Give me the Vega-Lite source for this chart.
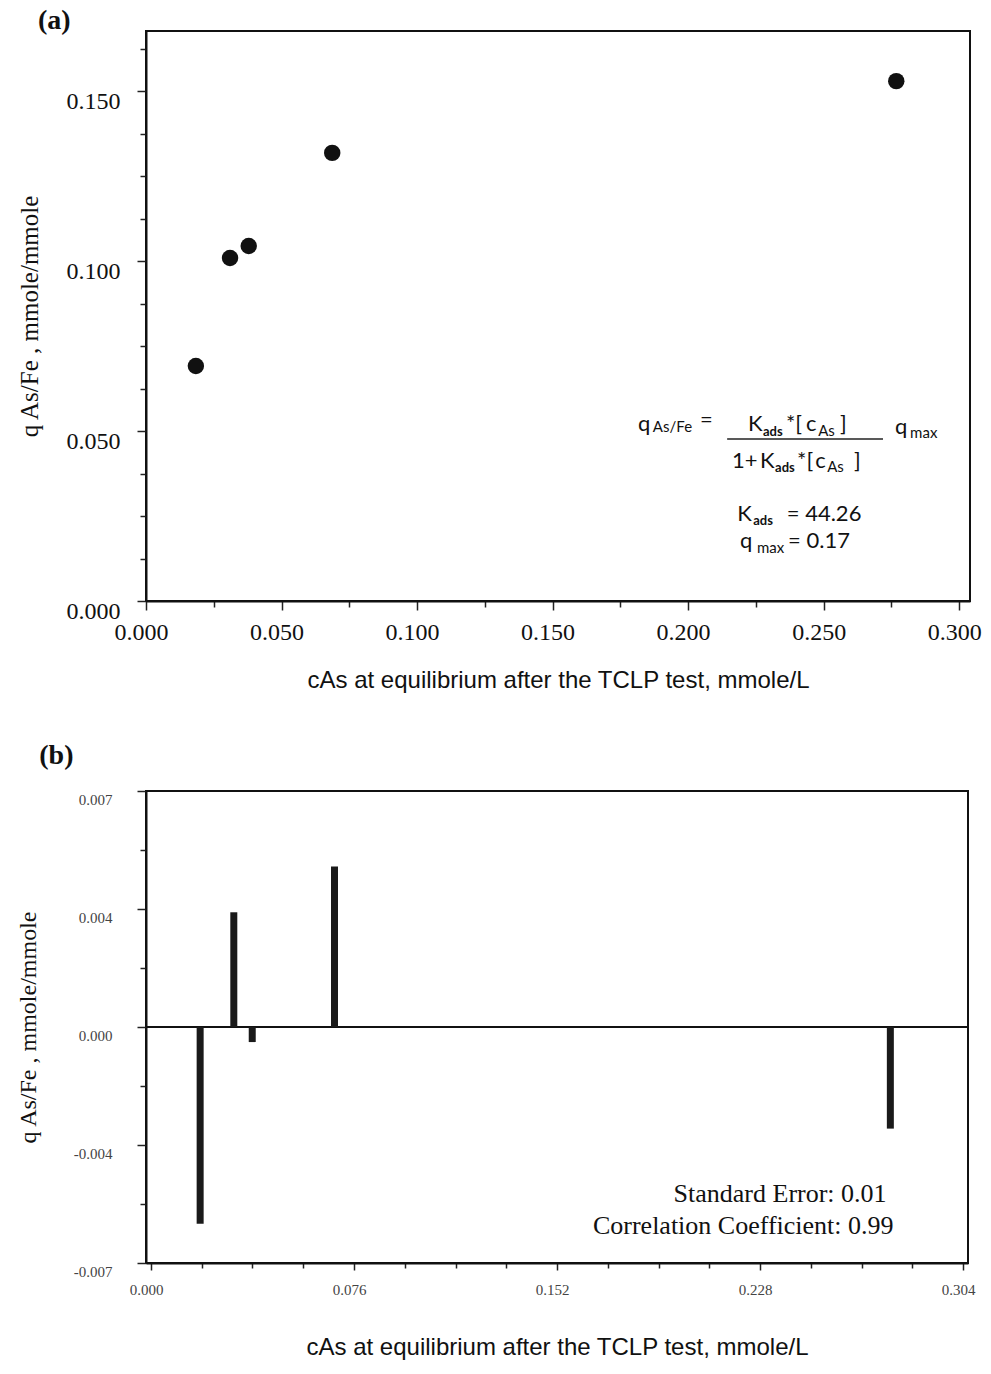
{
  "$schema": "https://vega.github.io/schema/vega-lite/v6.json",
  "background": "white",
  "padding": {"left": 15, "top": 6, "right": 10, "bottom": 10},
  "spacing": 48,
  "datasets": {
    "fit": [
      {"c": 0.0184, "q": 0.0691, "resid": -0.0060},
      {"c": 0.0310, "q": 0.1009, "resid": 0.0035},
      {"c": 0.0379, "q": 0.1044, "resid": -0.00046},
      {"c": 0.0687, "q": 0.1318, "resid": 0.0049},
      {"c": 0.2768, "q": 0.1529, "resid": -0.0031}
    ]
  },
  "vconcat": [
    {
      "width": 824,
      "height": 570,
      "title": {"text": "(a)", "anchor": "start", "frame": "bounds", "font": "Liberation Serif", "fontSize": 28, "fontWeight": "bold", "color": "#111", "dx": 21, "offset": -4},
      "layer": [
        {
          "data": {"name": "fit"},
          "mark": {"type": "circle", "size": 270, "color": "#111", "opacity": 1},
          "encoding": {
            "x": {"field": "c", "type": "quantitative", "scale": {"domain": [0, 0.304], "nice": false},
              "axis": {"title": "cAs at equilibrium after the TCLP test, mmole/L",
                "values": [0,0.0125,0.025,0.0375,0.05,0.0625,0.075,0.0875,0.1,0.1125,0.125,0.1375,0.15,0.1625,0.175,0.1875,0.2,0.2125,0.225,0.2375,0.25,0.2625,0.275,0.2875,0.3],
                "format": ".3f",
                "labelExpr": "round(datum.value*1000) % 50 === 0 ? datum.label : ''",
                "tickSize": {"condition": {"test": "round(datum.value*1000) % 50 === 0", "value": 9}, "value": 6},
                "labelFontSize": 24, "labelPadding": 10, "labelOffset": -5, "labelFlush": false, "labelOverlap": false,
                "titleFont": "Liberation Sans", "titleFontSize": 24, "titlePadding": 24}},
            "y": {"field": "q", "type": "quantitative", "scale": {"domain": [0, 0.16765], "nice": false},
              "axis": {"title": "q As/Fe , mmole/mmole",
                "values": [0,0.0125,0.025,0.0375,0.05,0.0625,0.075,0.0875,0.1,0.1125,0.125,0.1375,0.15,0.1625],
                "format": ".3f",
                "labelExpr": "round(datum.value*1000) % 50 === 0 ? datum.label : ''",
                "tickSize": {"condition": {"test": "round(datum.value*1000) % 50 === 0", "value": 9}, "value": 6},
                "labelFontSize": 24, "labelPadding": 17, "labelOffset": 10, "labelFlush": false, "labelOverlap": false,
                "titleFont": "Liberation Serif", "titleFontSize": 25, "titlePadding": 24}}
          }
        },
        {"data": {"values": [{}]}, "mark": {"type": "rule", "strokeWidth": 1.5, "color": "#222"},
          "encoding": {"x": {"datum": 0.2144, "type": "quantitative"}, "x2": {"datum": 0.2719}, "y": {"datum": 0.04765, "type": "quantitative"}}},
        {"data": {"values": [{}]}, "mark": {"type": "text", "style": "eqL"}, "encoding": {"x": {"datum": 0.1815, "type": "quantitative"}, "y": {"datum": 0.0500, "type": "quantitative"}, "text": {"value": "q"}}},
        {"data": {"values": [{}]}, "mark": {"type": "text", "style": "eqS"}, "encoding": {"x": {"datum": 0.1870, "type": "quantitative"}, "y": {"datum": 0.0497, "type": "quantitative"}, "text": {"value": "As/Fe"}}},
        {"data": {"values": [{}]}, "mark": {"type": "text", "style": "eqL"}, "encoding": {"x": {"datum": 0.2044, "type": "quantitative"}, "y": {"datum": 0.0512, "type": "quantitative"}, "text": {"value": "="}}},
        {"data": {"values": [{}]}, "mark": {"type": "text", "style": "eqL"}, "encoding": {"x": {"datum": 0.2221, "type": "quantitative"}, "y": {"datum": 0.0500, "type": "quantitative"}, "text": {"value": "K"}}},
        {"data": {"values": [{}]}, "mark": {"type": "text", "style": "eqSB"}, "encoding": {"x": {"datum": 0.2276, "type": "quantitative"}, "y": {"datum": 0.04853, "type": "quantitative"}, "text": {"value": "ads"}}},
        {"data": {"values": [{}]}, "mark": {"type": "text", "style": "eqL"}, "encoding": {"x": {"datum": 0.2361, "type": "quantitative"}, "y": {"datum": 0.0500, "type": "quantitative"}, "text": {"value": "*["}}},
        {"data": {"values": [{}]}, "mark": {"type": "text", "style": "eqL"}, "encoding": {"x": {"datum": 0.2435, "type": "quantitative"}, "y": {"datum": 0.0500, "type": "quantitative"}, "text": {"value": "c"}}},
        {"data": {"values": [{}]}, "mark": {"type": "text", "style": "eqS"}, "encoding": {"x": {"datum": 0.2480, "type": "quantitative"}, "y": {"datum": 0.04853, "type": "quantitative"}, "text": {"value": "As"}}},
        {"data": {"values": [{}]}, "mark": {"type": "text", "style": "eqL"}, "encoding": {"x": {"datum": 0.2560, "type": "quantitative"}, "y": {"datum": 0.0500, "type": "quantitative"}, "text": {"value": "]"}}},
        {"data": {"values": [{}]}, "mark": {"type": "text", "style": "eqL"}, "encoding": {"x": {"datum": 0.2162, "type": "quantitative"}, "y": {"datum": 0.03912, "type": "quantitative"}, "text": {"value": "1+"}}},
        {"data": {"values": [{}]}, "mark": {"type": "text", "style": "eqL"}, "encoding": {"x": {"datum": 0.2265, "type": "quantitative"}, "y": {"datum": 0.03912, "type": "quantitative"}, "text": {"value": "K"}}},
        {"data": {"values": [{}]}, "mark": {"type": "text", "style": "eqSB"}, "encoding": {"x": {"datum": 0.2321, "type": "quantitative"}, "y": {"datum": 0.03794, "type": "quantitative"}, "text": {"value": "ads"}}},
        {"data": {"values": [{}]}, "mark": {"type": "text", "style": "eqL"}, "encoding": {"x": {"datum": 0.2402, "type": "quantitative"}, "y": {"datum": 0.03912, "type": "quantitative"}, "text": {"value": "*["}}},
        {"data": {"values": [{}]}, "mark": {"type": "text", "style": "eqL"}, "encoding": {"x": {"datum": 0.2469, "type": "quantitative"}, "y": {"datum": 0.03912, "type": "quantitative"}, "text": {"value": "c"}}},
        {"data": {"values": [{}]}, "mark": {"type": "text", "style": "eqS"}, "encoding": {"x": {"datum": 0.2513, "type": "quantitative"}, "y": {"datum": 0.03794, "type": "quantitative"}, "text": {"value": "As"}}},
        {"data": {"values": [{}]}, "mark": {"type": "text", "style": "eqL"}, "encoding": {"x": {"datum": 0.2612, "type": "quantitative"}, "y": {"datum": 0.03912, "type": "quantitative"}, "text": {"value": "]"}}},
        {"data": {"values": [{}]}, "mark": {"type": "text", "style": "eqL"}, "encoding": {"x": {"datum": 0.2763, "type": "quantitative"}, "y": {"datum": 0.04912, "type": "quantitative"}, "text": {"value": "q"}}},
        {"data": {"values": [{}]}, "mark": {"type": "text", "style": "eqS"}, "encoding": {"x": {"datum": 0.2819, "type": "quantitative"}, "y": {"datum": 0.04794, "type": "quantitative"}, "text": {"value": "max"}}},
        {"data": {"values": [{}]}, "mark": {"type": "text", "style": "eqL"}, "encoding": {"x": {"datum": 0.2181, "type": "quantitative"}, "y": {"datum": 0.02353, "type": "quantitative"}, "text": {"value": "K"}}},
        {"data": {"values": [{}]}, "mark": {"type": "text", "style": "eqSB"}, "encoding": {"x": {"datum": 0.2240, "type": "quantitative"}, "y": {"datum": 0.02235, "type": "quantitative"}, "text": {"value": "ads"}}},
        {"data": {"values": [{}]}, "mark": {"type": "text", "style": "eqL"}, "encoding": {"x": {"datum": 0.2364, "type": "quantitative"}, "y": {"datum": 0.02353, "type": "quantitative"}, "text": {"value": "= 44.26"}}},
        {"data": {"values": [{}]}, "mark": {"type": "text", "style": "eqL"}, "encoding": {"x": {"datum": 0.2191, "type": "quantitative"}, "y": {"datum": 0.01559, "type": "quantitative"}, "text": {"value": "q"}}},
        {"data": {"values": [{}]}, "mark": {"type": "text", "style": "eqS"}, "encoding": {"x": {"datum": 0.2254, "type": "quantitative"}, "y": {"datum": 0.01412, "type": "quantitative"}, "text": {"value": "max"}}},
        {"data": {"values": [{}]}, "mark": {"type": "text", "style": "eqL"}, "encoding": {"x": {"datum": 0.2369, "type": "quantitative"}, "y": {"datum": 0.01559, "type": "quantitative"}, "text": {"value": "= 0.17"}}}
      ]
    },
    {
      "width": 822,
      "height": 472,
      "title": {"text": "(b)", "anchor": "start", "frame": "bounds", "font": "Liberation Serif", "fontSize": 28, "fontWeight": "bold", "color": "#111", "dx": 23, "offset": 20},
      "layer": [
        {"data": {"values": [{}]}, "mark": {"type": "rule", "color": "#111", "strokeWidth": 2},
          "encoding": {"y": {"datum": 0, "type": "quantitative"}}},
        {
          "data": {"name": "fit"},
          "mark": {"type": "bar", "width": 7, "color": "#1a1a1a"},
          "encoding": {
            "x": {"field": "c", "type": "quantitative", "scale": {"domain": [0, 0.304], "nice": false},
              "axis": {"title": "cAs at equilibrium after the TCLP test, mmole/L",
                "values": [0,0.019,0.038,0.057,0.076,0.095,0.114,0.133,0.152,0.171,0.19,0.209,0.228,0.247,0.266,0.285,0.304],
                "format": ".3f",
                "labelExpr": "round(datum.value*1000) % 76 === 0 ? datum.label : ''",
                "tickSize": {"condition": {"test": "round(datum.value*1000) % 76 === 0", "value": 7}, "value": 5},
                "labelFontSize": 15, "labelColor": "#444", "labelPadding": 12, "labelOffset": -5, "labelFlush": false, "labelOverlap": false,
                "titleFont": "Liberation Sans", "titleFontSize": 24, "titlePadding": 38}},
            "y": {"field": "resid", "type": "quantitative", "stack": null, "scale": {"domain": [-0.0072, 0.0072], "nice": false},
              "axis": {"title": "q As/Fe , mmole/mmole",
                "values": [-0.0072,-0.0063,-0.0054,-0.0045,-0.0036,-0.0027,-0.0018,-0.0009,0,0.0009,0.0018,0.0027,0.0036,0.0045,0.0054,0.0063,0.0072],
                "format": ".3f",
                "labelExpr": "round(datum.value*10000) % 36 === 0 ? replace(datum.label, '\u2212', '-') : ''",
                "tickSize": {"condition": {"test": "round(datum.value*10000) % 36 === 0", "value": 9}, "value": 6},
                "labelFontSize": 15, "labelColor": "#444", "labelPadding": 25, "labelOffset": 8, "labelFlush": false, "labelOverlap": false,
                "titleFont": "Liberation Serif", "titleFontSize": 24, "titlePadding": 33}}
          }
        },
        {"data": {"values": [{}]}, "mark": {"type": "text", "style": "note"}, "encoding": {"x": {"datum": 0.2754, "type": "quantitative"}, "y": {"datum": -0.00534, "type": "quantitative"}, "text": {"value": "Standard Error: 0.01"}}},
        {"data": {"values": [{}]}, "mark": {"type": "text", "style": "note"}, "encoding": {"x": {"datum": 0.2780, "type": "quantitative"}, "y": {"datum": -0.00632, "type": "quantitative"}, "text": {"value": "Correlation Coefficient: 0.99"}}}
      ]
    }
  ],
  "config": {
    "view": {"stroke": "#111", "strokeWidth": 2},
    "axis": {"domainColor": "#111", "domainWidth": 2, "tickColor": "#222", "tickWidth": 1.5, "labelColor": "#111", "titleColor": "#111", "grid": false, "labelFont": "Liberation Serif", "titleFontWeight": "normal"},
    "style": {
      "eqL": {"font": "Lato", "fontSize": 22, "align": "left", "baseline": "alphabetic", "color": "#111"},
      "eqS": {"font": "Lato", "fontSize": 15, "align": "left", "baseline": "alphabetic", "color": "#111"},
      "eqSB": {"font": "Lato", "fontSize": 13, "fontWeight": "bold", "align": "left", "baseline": "alphabetic", "color": "#111"},
      "note": {"font": "Liberation Serif", "fontSize": 26, "align": "right", "baseline": "alphabetic", "color": "#111"}
    }
  }
}
